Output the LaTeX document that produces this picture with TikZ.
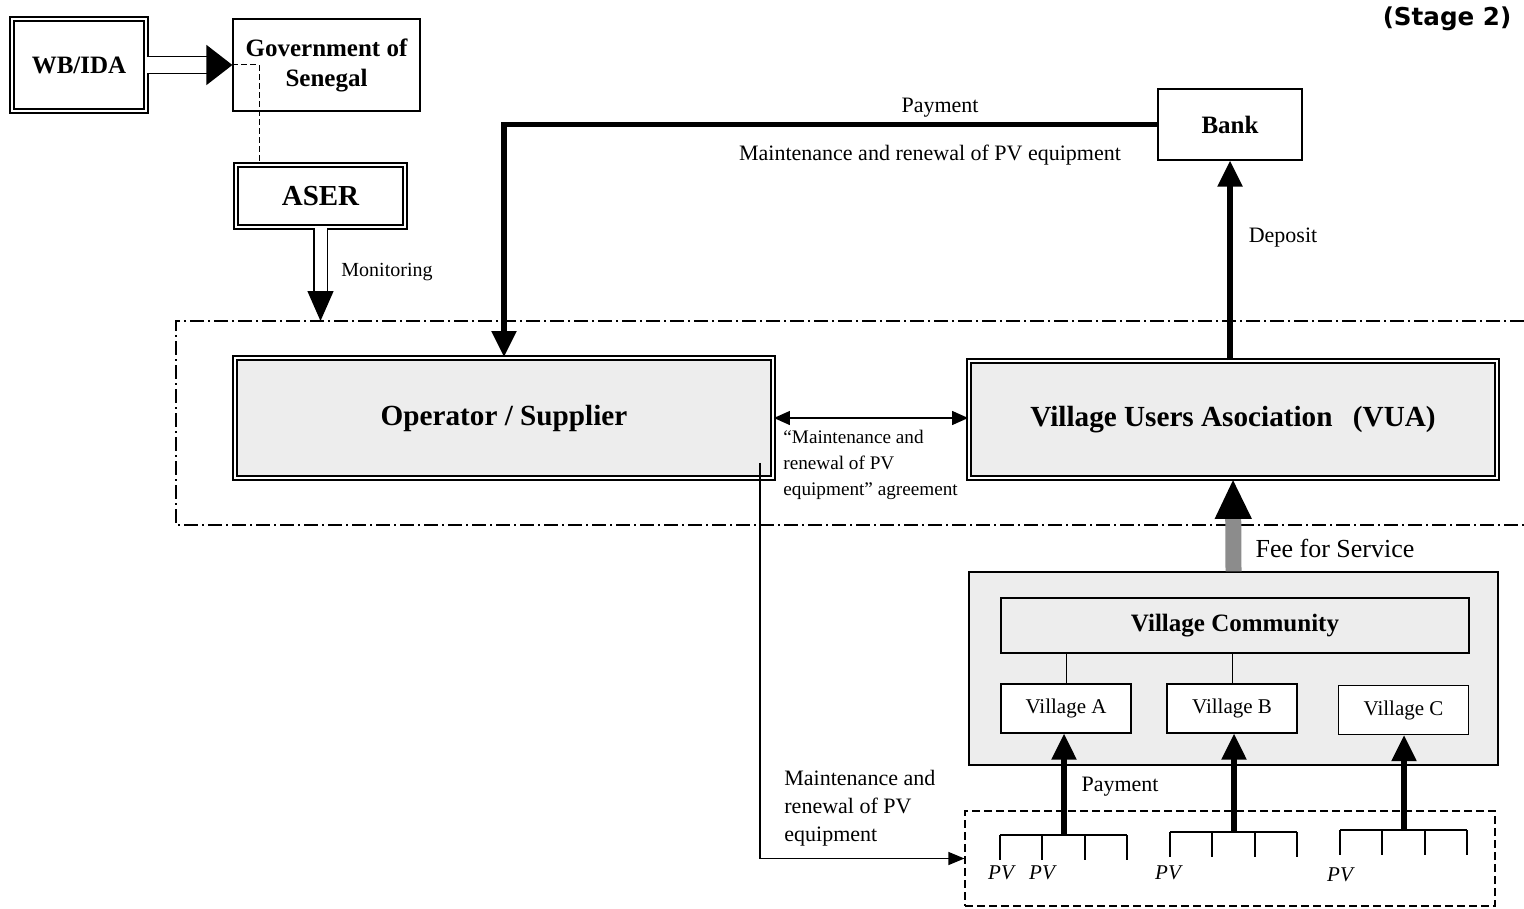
\documentclass[tikz,border=0pt]{standalone}
\usepackage{fontspec}
\setmainfont{Liberation Serif}
\newfontfamily\stagefont{DejaVu Sans}
\usepackage{tikz}
\usetikzlibrary{arrows.meta, calc, positioning}

\begin{document}
\begin{tikzpicture}[
    x=0.5pt, y=-0.5pt,
    box/.style={rectangle, draw=black, line width=0.6pt, text centered, align=center, inner sep=1pt},
    dbox/.style={rectangle, draw=black, double, line width=0.9pt, double distance=1.1pt, text centered, inner sep=1pt},
    shaded/.style={fill=black!7},
    bigtext/.style={font=\bfseries\fontsize{14.6}{17}\selectfont},
    midtext/.style={font=\bfseries\fontsize{12.5}{15}\selectfont},
    vtext/.style={font=\fontsize{10.5}{12}\selectfont},
    lbl/.style={font=\fontsize{11}{14}\selectfont, inner sep=0pt},
    hollowarrow/.style={draw=black, double, line width=0.7pt, double distance=#1, -{Triangle[length=13pt, width=20pt]}},
    thickarrow/.style={line width=2.6pt, -{Triangle[length=13pt, width=12pt]}},
    thinarrow/.style={line width=0.6pt, -{Triangle[length=8pt, width=6.5pt]}},
    twoway/.style={line width=0.6pt, {Triangle[length=8pt, width=7pt]}-{Triangle[length=8pt, width=7pt]}},
    feearrow/.style={draw=black!45, line width=8pt, -{Triangle[length=20pt, width=17pt, color=black]}},
    dashdot/.style={line width=0.6pt, dash pattern=on 7pt off 2pt on 1pt off 2pt}
]
\useasboundingbox (0,0) rectangle (1524,909);

% nodes
\node (wbida) [dbox, minimum width=67pt, minimum height=46pt, midtext] at (79,65) {WB/IDA};
\node (gov) [box, minimum width=93.5pt, minimum height=46pt, midtext] at (326.5,65) {Government of\\Senegal};
\node (aser) [dbox, minimum width=84.5pt, minimum height=31pt, font=\bfseries\fontsize{14.5}{17}\selectfont] at (320.5,196) {ASER};
\node (bank) [box, minimum width=72pt, minimum height=35.5pt, midtext] at (1230,124.5) {Bank};
\node (oper) [dbox, shaded, minimum width=269pt, minimum height=60pt, bigtext] at (504,418) {Operator / Supplier};
\node (vua) [dbox, shaded, minimum width=264pt, minimum height=58.5pt, bigtext] at (1233,419.5) {Village Users Asociation\hspace{0.7em}(VUA)};
\node (vgrp) [box, shaded, minimum width=264.5pt, minimum height=96.5pt] at (1233.5,668.5) {};
\node (vcomm) [box, shaded, minimum width=234pt, minimum height=27.5pt, midtext] at (1235,625.5) {Village Community};
\node (villA) [box, fill=white, minimum width=65pt, minimum height=24.5pt, vtext] at (1066,708.5) {Village A};
\node (villB) [box, fill=white, minimum width=65pt, minimum height=24.5pt, vtext] at (1232,708.5) {Village B};
\node (villC) [box, fill=white, minimum width=65pt, minimum height=24.5pt, vtext] at (1403.5,710) {Village C};
\node (pvbox) [box, dashed, dash pattern=on 4pt off 2pt, minimum width=265pt, minimum height=47.5pt] at (1230,858.5) {};
\node (stage) [font=\stagefont\bfseries\fontsize{12.3}{14}\selectfont] at (1447,19) {(Stage 2)};

% frame
\coordinate (frametop) at (176,321);
\draw [dashdot] (1524,321) -- (frametop) -- (176,525) -- (1524,525);

% arrows
\draw [hollowarrow=8pt] (wbida) -- (gov);
\draw [line width=0.5pt, dashed, dash pattern=on 3pt off 1.5pt] (gov.west) -| ([xshift=12pt]aser.north west);
\draw [hollowarrow=6pt, -{Triangle[length=15pt, width=13pt]}] (aser.south) -- (aser.south |- frametop);
\draw [thickarrow] (bank.west) -| (oper.north);
\draw [thickarrow] (bank.south |- vua.north) -- (bank.south);
\draw [feearrow] (vgrp.north) -- (vua.south);
\draw [twoway] (oper.east) -- (oper.east -| vua.west);
\draw [thinarrow] ([xshift=-7pt, yshift=8pt]oper.south east) |- (pvbox.west);
\draw [line width=0.5pt] (vcomm.south -| villA) -- (villA.north);
\draw [line width=0.5pt] (vcomm.south -| villB) -- (villB.north);

% PV combs
\foreach \x/\y/\n in {1000/835/pvA, 1170/832/pvB, 1340/830/pvC} {
    \draw [line width=0.6pt] (\x,\y) -- ++(127,0);
    \foreach \d in {0,42,85,127} \draw [line width=0.6pt] (\x+\d,\y) -- ++(0,25);
    \coordinate (\n) at (\x+64,\y);
}
\draw [thickarrow] (pvA) -- (pvA |- villA.south);
\draw [thickarrow] (pvB) -- (pvB |- villB.south);
\draw [thickarrow] (pvC) -- (pvC |- villC.south);
\foreach \x/\y in {1001/873, 1042/873, 1168/873, 1340/875}
    \node [font=\itshape\fontsize{10.5}{12}\selectfont] at (\x,\y) {PV};

% labels
\node [lbl] at (940,108) {Payment};
\node [lbl] at (930,155) {Maintenance and renewal of PV equipment};
\node [lbl] at (1283,238) {Deposit};
\node [lbl, font=\fontsize{10}{12}\selectfont] at (387,272) {Monitoring};
\node [lbl, font=\fontsize{13}{15}\selectfont] at (1335,548) {Fee for Service};
\node [lbl] at (1120,787) {Payment};
\node [lbl, anchor=north west, align=left, font=\fontsize{9.6}{13}\selectfont] at (783,430) {``Maintenance and\\renewal of PV\\equipment'' agreement};
\node [lbl, anchor=north west, align=left, font=\fontsize{11}{14}\selectfont] at (784,770) {Maintenance and\\renewal of PV\\equipment};

\end{tikzpicture}
\end{document}
